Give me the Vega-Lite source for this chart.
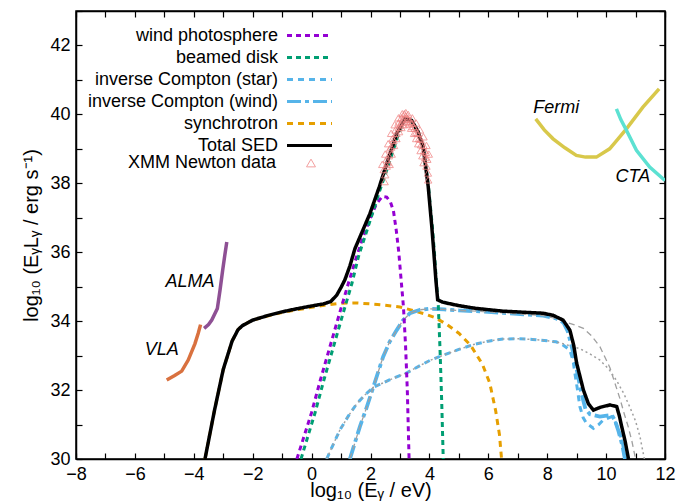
{
  "$schema": "https://vega.github.io/schema/vega-lite/v6.json",
  "width": 589,
  "height": 448,
  "autosize": {"type": "none"},
  "padding": {"left": 76, "top": 11, "right": 21, "bottom": 44},
  "config": {
    "font": "Liberation Sans",
    "view": {"stroke": "black", "strokeWidth": 1.5},
    "axis": {"grid": false, "domainColor": "black", "domainWidth": 1.5, "tickColor": "black", "tickWidth": 1.2, "tickSize": -6, "labelFontSize": 18, "labelColor": "black", "labelPadding": 12, "labelFont": "Liberation Sans", "titleFont": "Liberation Sans", "titleFontSize": 20, "titleFontWeight": "normal", "titleColor": "black", "labelFlush": false, "labelOverlap": false},
    "legend": {"orient": "none", "padding": 0, "labelFontSize": 18, "labelFont": "Liberation Sans", "labelColor": "black", "labelLimit": 0}
  },
  "datasets": {
    "c": [
      {"s": "synchrotron", "x": -3.62, "y": 30}, {"s": "synchrotron", "x": -3.3, "y": 31.4}, {"s": "synchrotron", "x": -3.0, "y": 32.6}, {"s": "synchrotron", "x": -2.7, "y": 33.42}, {"s": "synchrotron", "x": -2.5, "y": 33.75}, {"s": "synchrotron", "x": -2.35, "y": 33.87}, {"s": "synchrotron", "x": -2.0, "y": 34.03}, {"s": "synchrotron", "x": -1.5, "y": 34.15}, {"s": "synchrotron", "x": -1.0, "y": 34.25}, {"s": "synchrotron", "x": -0.5, "y": 34.33}, {"s": "synchrotron", "x": 0, "y": 34.4}, {"s": "synchrotron", "x": 0.5, "y": 34.47}, {"s": "synchrotron", "x": 1, "y": 34.52}, {"s": "synchrotron", "x": 1.5, "y": 34.53}, {"s": "synchrotron", "x": 2, "y": 34.5}, {"s": "synchrotron", "x": 2.5, "y": 34.46}, {"s": "synchrotron", "x": 3, "y": 34.41}, {"s": "synchrotron", "x": 3.4, "y": 34.32}, {"s": "synchrotron", "x": 3.8, "y": 34.22}, {"s": "synchrotron", "x": 4.2, "y": 34.1}, {"s": "synchrotron", "x": 4.6, "y": 33.9}, {"s": "synchrotron", "x": 5.0, "y": 33.65}, {"s": "synchrotron", "x": 5.4, "y": 33.3}, {"s": "synchrotron", "x": 5.8, "y": 32.75}, {"s": "synchrotron", "x": 6.05, "y": 32.2}, {"s": "synchrotron", "x": 6.25, "y": 31.4}, {"s": "synchrotron", "x": 6.38, "y": 30.7}, {"s": "synchrotron", "x": 6.45, "y": 30.0},

      {"s": "inverse Compton (star)", "x": 0.51, "y": 30}, {"s": "inverse Compton (star)", "x": 0.75, "y": 30.45}, {"s": "inverse Compton (star)", "x": 0.96, "y": 30.84}, {"s": "inverse Compton (star)", "x": 1.25, "y": 31.25}, {"s": "inverse Compton (star)", "x": 1.53, "y": 31.6}, {"s": "inverse Compton (star)", "x": 1.8, "y": 31.85}, {"s": "inverse Compton (star)", "x": 2.1, "y": 32.08}, {"s": "inverse Compton (star)", "x": 2.66, "y": 32.3}, {"s": "inverse Compton (star)", "x": 3.23, "y": 32.5}, {"s": "inverse Compton (star)", "x": 3.7, "y": 32.72}, {"s": "inverse Compton (star)", "x": 4.02, "y": 32.86}, {"s": "inverse Compton (star)", "x": 4.4, "y": 32.99}, {"s": "inverse Compton (star)", "x": 5.0, "y": 33.18}, {"s": "inverse Compton (star)", "x": 5.5, "y": 33.32}, {"s": "inverse Compton (star)", "x": 6.0, "y": 33.42}, {"s": "inverse Compton (star)", "x": 6.5, "y": 33.48}, {"s": "inverse Compton (star)", "x": 7.0, "y": 33.49}, {"s": "inverse Compton (star)", "x": 7.5, "y": 33.47}, {"s": "inverse Compton (star)", "x": 7.9, "y": 33.44}, {"s": "inverse Compton (star)", "x": 8.3, "y": 33.4}, {"s": "inverse Compton (star)", "x": 8.5, "y": 33.33}, {"s": "inverse Compton (star)", "x": 8.77, "y": 33.16}, {"s": "inverse Compton (star)", "x": 8.88, "y": 32.85}, {"s": "inverse Compton (star)", "x": 8.94, "y": 32.49}, {"s": "inverse Compton (star)", "x": 9.03, "y": 32.0}, {"s": "inverse Compton (star)", "x": 9.11, "y": 31.52}, {"s": "inverse Compton (star)", "x": 9.22, "y": 31.2}, {"s": "inverse Compton (star)", "x": 9.34, "y": 31.03}, {"s": "inverse Compton (star)", "x": 9.57, "y": 30.89}, {"s": "inverse Compton (star)", "x": 9.75, "y": 31.0}, {"s": "inverse Compton (star)", "x": 9.9, "y": 31.13}, {"s": "inverse Compton (star)", "x": 10.19, "y": 31.23}, {"s": "inverse Compton (star)", "x": 10.3, "y": 31.1}, {"s": "inverse Compton (star)", "x": 10.47, "y": 30.74}, {"s": "inverse Compton (star)", "x": 10.57, "y": 30.4}, {"s": "inverse Compton (star)", "x": 10.64, "y": 30.0},

      {"s": "inverse Compton (wind)", "x": 1.3, "y": 30}, {"s": "inverse Compton (wind)", "x": 1.64, "y": 30.94}, {"s": "inverse Compton (wind)", "x": 1.87, "y": 31.5}, {"s": "inverse Compton (wind)", "x": 2.1, "y": 32.1}, {"s": "inverse Compton (wind)", "x": 2.43, "y": 32.97}, {"s": "inverse Compton (wind)", "x": 2.65, "y": 33.4}, {"s": "inverse Compton (wind)", "x": 2.89, "y": 33.74}, {"s": "inverse Compton (wind)", "x": 3.1, "y": 34.02}, {"s": "inverse Compton (wind)", "x": 3.34, "y": 34.23}, {"s": "inverse Compton (wind)", "x": 3.68, "y": 34.33}, {"s": "inverse Compton (wind)", "x": 4.0, "y": 34.36}, {"s": "inverse Compton (wind)", "x": 4.5, "y": 34.34}, {"s": "inverse Compton (wind)", "x": 5.0, "y": 34.31}, {"s": "inverse Compton (wind)", "x": 5.6, "y": 34.29}, {"s": "inverse Compton (wind)", "x": 6.5, "y": 34.24}, {"s": "inverse Compton (wind)", "x": 7.2, "y": 34.2}, {"s": "inverse Compton (wind)", "x": 7.87, "y": 34.16}, {"s": "inverse Compton (wind)", "x": 8.3, "y": 34.08}, {"s": "inverse Compton (wind)", "x": 8.55, "y": 33.96}, {"s": "inverse Compton (wind)", "x": 8.7, "y": 33.7}, {"s": "inverse Compton (wind)", "x": 8.85, "y": 33.2}, {"s": "inverse Compton (wind)", "x": 9.0, "y": 32.6}, {"s": "inverse Compton (wind)", "x": 9.15, "y": 31.95}, {"s": "inverse Compton (wind)", "x": 9.3, "y": 31.45}, {"s": "inverse Compton (wind)", "x": 9.45, "y": 31.3}, {"s": "inverse Compton (wind)", "x": 9.79, "y": 31.23}, {"s": "inverse Compton (wind)", "x": 10.19, "y": 31.28}, {"s": "inverse Compton (wind)", "x": 10.3, "y": 31.12}, {"s": "inverse Compton (wind)", "x": 10.41, "y": 30.84}, {"s": "inverse Compton (wind)", "x": 10.55, "y": 30.4}, {"s": "inverse Compton (wind)", "x": 10.64, "y": 30.0},

      {"s": "gw", "x": 1.3, "y": 30}, {"s": "gw", "x": 1.64, "y": 30.94}, {"s": "gw", "x": 1.87, "y": 31.5}, {"s": "gw", "x": 2.1, "y": 32.1}, {"s": "gw", "x": 2.43, "y": 32.97}, {"s": "gw", "x": 2.65, "y": 33.4}, {"s": "gw", "x": 2.89, "y": 33.74}, {"s": "gw", "x": 3.1, "y": 34.02}, {"s": "gw", "x": 3.34, "y": 34.23}, {"s": "gw", "x": 3.68, "y": 34.33}, {"s": "gw", "x": 4.0, "y": 34.36}, {"s": "gw", "x": 4.5, "y": 34.34}, {"s": "gw", "x": 5.0, "y": 34.31}, {"s": "gw", "x": 5.6, "y": 34.29}, {"s": "gw", "x": 6.5, "y": 34.24}, {"s": "gw", "x": 7.2, "y": 34.2}, {"s": "gw", "x": 7.87, "y": 34.16}, {"s": "gw", "x": 8.3, "y": 34.08}, {"s": "gw", "x": 8.55, "y": 34.0}, {"s": "gw", "x": 8.9, "y": 33.9}, {"s": "gw", "x": 9.23, "y": 33.79}, {"s": "gw", "x": 9.5, "y": 33.58}, {"s": "gw", "x": 9.79, "y": 33.26}, {"s": "gw", "x": 10.13, "y": 32.65}, {"s": "gw", "x": 10.3, "y": 32.2}, {"s": "gw", "x": 10.47, "y": 31.75}, {"s": "gw", "x": 10.62, "y": 31.3}, {"s": "gw", "x": 10.75, "y": 30.94}, {"s": "gw", "x": 10.88, "y": 30.5}, {"s": "gw", "x": 11.0, "y": 30.0},

      {"s": "gs", "x": 0.51, "y": 30}, {"s": "gs", "x": 0.75, "y": 30.45}, {"s": "gs", "x": 0.96, "y": 30.84}, {"s": "gs", "x": 1.25, "y": 31.25}, {"s": "gs", "x": 1.53, "y": 31.6}, {"s": "gs", "x": 1.8, "y": 31.85}, {"s": "gs", "x": 2.1, "y": 32.08}, {"s": "gs", "x": 2.66, "y": 32.3}, {"s": "gs", "x": 3.23, "y": 32.5}, {"s": "gs", "x": 3.7, "y": 32.72}, {"s": "gs", "x": 4.02, "y": 32.86}, {"s": "gs", "x": 4.4, "y": 32.99}, {"s": "gs", "x": 5.0, "y": 33.18}, {"s": "gs", "x": 5.5, "y": 33.32}, {"s": "gs", "x": 6.0, "y": 33.42}, {"s": "gs", "x": 6.5, "y": 33.48}, {"s": "gs", "x": 7.0, "y": 33.49}, {"s": "gs", "x": 7.5, "y": 33.47}, {"s": "gs", "x": 7.9, "y": 33.44}, {"s": "gs", "x": 8.3, "y": 33.4}, {"s": "gs", "x": 8.8, "y": 33.28}, {"s": "gs", "x": 9.11, "y": 33.2}, {"s": "gs", "x": 9.45, "y": 33.05}, {"s": "gs", "x": 9.79, "y": 32.87}, {"s": "gs", "x": 10.1, "y": 32.6}, {"s": "gs", "x": 10.36, "y": 32.27}, {"s": "gs", "x": 10.6, "y": 31.9}, {"s": "gs", "x": 10.81, "y": 31.5}, {"s": "gs", "x": 11.0, "y": 31.1}, {"s": "gs", "x": 11.15, "y": 30.65}, {"s": "gs", "x": 11.26, "y": 30.17}, {"s": "gs", "x": 11.3, "y": 30.0},

      {"s": "wind photosphere", "x": -0.5, "y": 30}, {"s": "wind photosphere", "x": 0.0, "y": 31.35}, {"s": "wind photosphere", "x": 0.3, "y": 32.3}, {"s": "wind photosphere", "x": 0.62, "y": 33.25}, {"s": "wind photosphere", "x": 0.94, "y": 34.2}, {"s": "wind photosphere", "x": 1.25, "y": 35.1}, {"s": "wind photosphere", "x": 1.5, "y": 35.8}, {"s": "wind photosphere", "x": 1.75, "y": 36.45}, {"s": "wind photosphere", "x": 2.0, "y": 37.0}, {"s": "wind photosphere", "x": 2.2, "y": 37.4}, {"s": "wind photosphere", "x": 2.4, "y": 37.62}, {"s": "wind photosphere", "x": 2.55, "y": 37.6}, {"s": "wind photosphere", "x": 2.68, "y": 37.45}, {"s": "wind photosphere", "x": 2.78, "y": 37.2}, {"s": "wind photosphere", "x": 2.88, "y": 36.6}, {"s": "wind photosphere", "x": 2.96, "y": 36.0}, {"s": "wind photosphere", "x": 3.04, "y": 35.2}, {"s": "wind photosphere", "x": 3.12, "y": 34.4}, {"s": "wind photosphere", "x": 3.19, "y": 33.3}, {"s": "wind photosphere", "x": 3.25, "y": 32.0}, {"s": "wind photosphere", "x": 3.28, "y": 31.0}, {"s": "wind photosphere", "x": 3.31, "y": 30.0},

      {"s": "beamed disk", "x": -0.36, "y": 30}, {"s": "beamed disk", "x": 0.12, "y": 31.35}, {"s": "beamed disk", "x": 0.42, "y": 32.3}, {"s": "beamed disk", "x": 0.74, "y": 33.25}, {"s": "beamed disk", "x": 1.06, "y": 34.2}, {"s": "beamed disk", "x": 1.37, "y": 35.1}, {"s": "beamed disk", "x": 1.6, "y": 35.9}, {"s": "beamed disk", "x": 2.0, "y": 36.95}, {"s": "beamed disk", "x": 2.3, "y": 37.75}, {"s": "beamed disk", "x": 2.6, "y": 38.5}, {"s": "beamed disk", "x": 2.92, "y": 39.35}, {"s": "beamed disk", "x": 3.1, "y": 39.75}, {"s": "beamed disk", "x": 3.2, "y": 39.85}, {"s": "beamed disk", "x": 3.4, "y": 39.8}, {"s": "beamed disk", "x": 3.62, "y": 39.45}, {"s": "beamed disk", "x": 3.8, "y": 39.0}, {"s": "beamed disk", "x": 3.97, "y": 37.9}, {"s": "beamed disk", "x": 4.1, "y": 36.75}, {"s": "beamed disk", "x": 4.17, "y": 36.0}, {"s": "beamed disk", "x": 4.24, "y": 35.1}, {"s": "beamed disk", "x": 4.3, "y": 34.5}, {"s": "beamed disk", "x": 4.36, "y": 33.2}, {"s": "beamed disk", "x": 4.42, "y": 31.6}, {"s": "beamed disk", "x": 4.47, "y": 30.0},

      {"s": "Total SED", "x": -3.62, "y": 30}, {"s": "Total SED", "x": -3.3, "y": 31.4}, {"s": "Total SED", "x": -3.0, "y": 32.6}, {"s": "Total SED", "x": -2.7, "y": 33.42}, {"s": "Total SED", "x": -2.5, "y": 33.75}, {"s": "Total SED", "x": -2.35, "y": 33.87}, {"s": "Total SED", "x": -2.0, "y": 34.03}, {"s": "Total SED", "x": -1.5, "y": 34.16}, {"s": "Total SED", "x": -1.0, "y": 34.27}, {"s": "Total SED", "x": -0.5, "y": 34.36}, {"s": "Total SED", "x": 0, "y": 34.44}, {"s": "Total SED", "x": 0.4, "y": 34.5}, {"s": "Total SED", "x": 0.65, "y": 34.57}, {"s": "Total SED", "x": 0.85, "y": 34.75}, {"s": "Total SED", "x": 1.0, "y": 34.98}, {"s": "Total SED", "x": 1.13, "y": 35.2}, {"s": "Total SED", "x": 1.3, "y": 35.6}, {"s": "Total SED", "x": 1.47, "y": 36.1}, {"s": "Total SED", "x": 1.98, "y": 37.12}, {"s": "Total SED", "x": 2.3, "y": 37.9}, {"s": "Total SED", "x": 2.55, "y": 38.57}, {"s": "Total SED", "x": 2.89, "y": 39.44}, {"s": "Total SED", "x": 3.17, "y": 39.87}, {"s": "Total SED", "x": 3.4, "y": 39.82}, {"s": "Total SED", "x": 3.62, "y": 39.49}, {"s": "Total SED", "x": 3.79, "y": 39.05}, {"s": "Total SED", "x": 3.96, "y": 37.9}, {"s": "Total SED", "x": 4.08, "y": 36.75}, {"s": "Total SED", "x": 4.15, "y": 36.0}, {"s": "Total SED", "x": 4.22, "y": 35.2}, {"s": "Total SED", "x": 4.28, "y": 34.62}, {"s": "Total SED", "x": 4.45, "y": 34.55}, {"s": "Total SED", "x": 5.0, "y": 34.45}, {"s": "Total SED", "x": 5.58, "y": 34.37}, {"s": "Total SED", "x": 6.5, "y": 34.29}, {"s": "Total SED", "x": 7.86, "y": 34.23}, {"s": "Total SED", "x": 8.2, "y": 34.17}, {"s": "Total SED", "x": 8.54, "y": 34.03}, {"s": "Total SED", "x": 8.77, "y": 33.74}, {"s": "Total SED", "x": 8.9, "y": 33.3}, {"s": "Total SED", "x": 9.0, "y": 32.78}, {"s": "Total SED", "x": 9.23, "y": 32.0}, {"s": "Total SED", "x": 9.4, "y": 31.6}, {"s": "Total SED", "x": 9.57, "y": 31.42}, {"s": "Total SED", "x": 9.8, "y": 31.5}, {"s": "Total SED", "x": 10.13, "y": 31.57}, {"s": "Total SED", "x": 10.36, "y": 31.52}, {"s": "Total SED", "x": 10.45, "y": 31.25}, {"s": "Total SED", "x": 10.53, "y": 30.94}, {"s": "Total SED", "x": 10.65, "y": 30.5}, {"s": "Total SED", "x": 10.76, "y": 30.0},

      {"s": "VLA", "x": -4.92, "y": 32.29}, {"s": "VLA", "x": -4.65, "y": 32.42}, {"s": "VLA", "x": -4.41, "y": 32.55}, {"s": "VLA", "x": -4.19, "y": 32.87}, {"s": "VLA", "x": -3.96, "y": 33.35}, {"s": "VLA", "x": -3.85, "y": 33.65}, {"s": "VLA", "x": -3.77, "y": 33.9},
      {"s": "ALMA", "x": -3.65, "y": 33.79}, {"s": "ALMA", "x": -3.5, "y": 33.9}, {"s": "ALMA", "x": -3.39, "y": 34.03}, {"s": "ALMA", "x": -3.2, "y": 34.37}, {"s": "ALMA", "x": -3.11, "y": 34.9}, {"s": "ALMA", "x": -3.02, "y": 35.48}, {"s": "ALMA", "x": -2.95, "y": 35.9}, {"s": "ALMA", "x": -2.88, "y": 36.3},
      {"s": "Fermi", "x": 7.61, "y": 39.87}, {"s": "Fermi", "x": 7.9, "y": 39.55}, {"s": "Fermi", "x": 8.2, "y": 39.29}, {"s": "Fermi", "x": 8.6, "y": 39.03}, {"s": "Fermi", "x": 8.99, "y": 38.81}, {"s": "Fermi", "x": 9.3, "y": 38.76}, {"s": "Fermi", "x": 9.67, "y": 38.76}, {"s": "Fermi", "x": 10.12, "y": 39.0}, {"s": "Fermi", "x": 10.4, "y": 39.28}, {"s": "Fermi", "x": 10.69, "y": 39.58}, {"s": "Fermi", "x": 11.25, "y": 40.21}, {"s": "Fermi", "x": 11.8, "y": 40.74},
      {"s": "CTA", "x": 10.35, "y": 40.16}, {"s": "CTA", "x": 10.5, "y": 39.85}, {"s": "CTA", "x": 10.69, "y": 39.54}, {"s": "CTA", "x": 11.03, "y": 38.96}, {"s": "CTA", "x": 11.48, "y": 38.47}, {"s": "CTA", "x": 12.0, "y": 38.08}
    ],
    "xmm": [
      {"src": "XMM Newton data", "x": 2.45, "y": 38.4}, {"src": "XMM Newton data", "x": 2.55, "y": 38.7}, {"src": "XMM Newton data", "x": 2.65, "y": 39.0}, {"src": "XMM Newton data", "x": 2.75, "y": 39.3}, {"src": "XMM Newton data", "x": 2.85, "y": 39.55}, {"src": "XMM Newton data", "x": 2.95, "y": 39.75}, {"src": "XMM Newton data", "x": 3.05, "y": 39.9}, {"src": "XMM Newton data", "x": 3.15, "y": 40.02},
      {"src": "XMM Newton data", "x": 2.4, "y": 38.55}, {"src": "XMM Newton data", "x": 2.5, "y": 38.85}, {"src": "XMM Newton data", "x": 2.6, "y": 39.15}, {"src": "XMM Newton data", "x": 2.7, "y": 39.45}, {"src": "XMM Newton data", "x": 2.82, "y": 39.7}, {"src": "XMM Newton data", "x": 2.95, "y": 39.9}, {"src": "XMM Newton data", "x": 3.08, "y": 40.02},
      {"src": "XMM Newton data", "x": 2.65, "y": 38.55}, {"src": "XMM Newton data", "x": 2.72, "y": 38.85}, {"src": "XMM Newton data", "x": 2.8, "y": 39.1}, {"src": "XMM Newton data", "x": 2.88, "y": 39.3}, {"src": "XMM Newton data", "x": 2.97, "y": 39.5}, {"src": "XMM Newton data", "x": 3.05, "y": 39.62}, {"src": "XMM Newton data", "x": 3.13, "y": 39.7},
      {"src": "XMM Newton data", "x": 2.55, "y": 38.5}, {"src": "XMM Newton data", "x": 2.62, "y": 38.8}, {"src": "XMM Newton data", "x": 2.7, "y": 39.05}, {"src": "XMM Newton data", "x": 2.78, "y": 39.25}, {"src": "XMM Newton data", "x": 2.88, "y": 39.45}, {"src": "XMM Newton data", "x": 2.96, "y": 39.62}, {"src": "XMM Newton data", "x": 3.05, "y": 39.78}, {"src": "XMM Newton data", "x": 3.1, "y": 39.85},
      {"src": "XMM Newton data", "x": 3.2, "y": 39.95}, {"src": "XMM Newton data", "x": 3.25, "y": 39.88}, {"src": "XMM Newton data", "x": 3.3, "y": 39.85}, {"src": "XMM Newton data", "x": 3.22, "y": 39.78}, {"src": "XMM Newton data", "x": 3.3, "y": 39.72}, {"src": "XMM Newton data", "x": 3.35, "y": 39.8}, {"src": "XMM Newton data", "x": 3.2, "y": 40.05}, {"src": "XMM Newton data", "x": 3.28, "y": 40.0},
      {"src": "XMM Newton data", "x": 3.4, "y": 39.75}, {"src": "XMM Newton data", "x": 3.5, "y": 39.6}, {"src": "XMM Newton data", "x": 3.6, "y": 39.45}, {"src": "XMM Newton data", "x": 3.7, "y": 39.28}, {"src": "XMM Newton data", "x": 3.8, "y": 39.1}, {"src": "XMM Newton data", "x": 3.88, "y": 38.9}, {"src": "XMM Newton data", "x": 3.93, "y": 38.7}, {"src": "XMM Newton data", "x": 3.95, "y": 38.3},
      {"src": "XMM Newton data", "x": 3.42, "y": 39.9}, {"src": "XMM Newton data", "x": 3.55, "y": 39.75}, {"src": "XMM Newton data", "x": 3.68, "y": 39.55}, {"src": "XMM Newton data", "x": 3.8, "y": 39.35}, {"src": "XMM Newton data", "x": 3.9, "y": 39.1}, {"src": "XMM Newton data", "x": 3.98, "y": 38.85},
      {"src": "XMM Newton data", "x": 3.38, "y": 39.6}, {"src": "XMM Newton data", "x": 3.48, "y": 39.45}, {"src": "XMM Newton data", "x": 3.55, "y": 39.3}, {"src": "XMM Newton data", "x": 3.62, "y": 39.15}, {"src": "XMM Newton data", "x": 3.7, "y": 38.95}, {"src": "XMM Newton data", "x": 3.76, "y": 38.8}, {"src": "XMM Newton data", "x": 3.8, "y": 38.6},
      {"src": "XMM Newton data", "x": 3.45, "y": 39.65}, {"src": "XMM Newton data", "x": 3.55, "y": 39.48}, {"src": "XMM Newton data", "x": 3.65, "y": 39.3}, {"src": "XMM Newton data", "x": 3.72, "y": 39.12}, {"src": "XMM Newton data", "x": 3.82, "y": 38.95}, {"src": "XMM Newton data", "x": 3.86, "y": 38.75},
      {"src": "XMM Newton data", "x": 2.5, "y": 38.25}, {"src": "XMM Newton data", "x": 3.9, "y": 38.5}, {"src": "XMM Newton data", "x": 2.58, "y": 38.6}, {"src": "XMM Newton data", "x": 3.02, "y": 39.7}, {"src": "XMM Newton data", "x": 2.48, "y": 38.05}, {"src": "XMM Newton data", "x": 3.96, "y": 38.1}
    ],
    "lab": [
      {"t": "Fermi", "x": 8.31, "y": 40.19}, {"t": "CTA", "x": 10.91, "y": 38.18}, {"t": "ALMA", "x": -4.13, "y": 35.14}, {"t": "VLA", "x": -5.09, "y": 33.16}
    ]
  },
  "layer": [
    {
      "data": {"name": "c"},
      "transform": [{"filter": {"field": "s", "oneOf": ["synchrotron", "inverse Compton (star)"]}}],
      "mark": {"type": "line", "strokeWidth": 3, "clip": true},
      "encoding": {
        "x": {"field": "x", "type": "quantitative", "scale": {"domain": [-8, 12], "nice": false, "zero": false},
              "axis": {"orient": "bottom", "values": [-8,-7,-6,-5,-4,-3,-2,-1,0,1,2,3,4,5,6,7,8,9,10,11,12], "labelExpr": "datum.value % 2 === 0 ? datum.label : ''", "title": "log₁₀ (Eᵧ / eV)", "titlePadding": -3}},
        "y": {"field": "y", "type": "quantitative", "scale": {"domain": [30, 43], "nice": false, "zero": false},
              "axis": {"orient": "left", "values": [30,31,32,33,34,35,36,37,38,39,40,41,42,43], "labelExpr": "datum.value % 2 === 0 && datum.value < 43 ? datum.label : ''", "title": "log₁₀ (EᵧLᵧ / erg s⁻¹)", "titlePadding": 8}},
        "color": {"field": "s", "type": "nominal", "scale": {"domain": ["wind photosphere", "beamed disk", "inverse Compton (star)", "inverse Compton (wind)", "synchrotron", "Total SED"], "range": ["#9400d3", "#009e73", "#56b4e9", "#56b4e9", "#e69f00", "#000000"]},
                  "legend": {"title": null, "legendX": 223, "legendY": 14, "labelAlign": "right", "labelOffset": -42, "symbolType": "M-2.5,0L2.5,0", "symbolSize": 324, "symbolStrokeWidth": 3, "rowPadding": 2}},
        "strokeDash": {"field": "s", "type": "nominal", "scale": {"domain": ["wind photosphere", "beamed disk", "inverse Compton (star)", "inverse Compton (wind)", "synchrotron", "Total SED"], "range": [[5,4],[5,4],[6,5],[14,4,4,4],[6,5],[1,0]]},
                  "legend": {"title": null, "legendX": 223, "legendY": 14, "labelAlign": "right", "labelOffset": -42, "symbolType": "M-2.5,0L2.5,0", "symbolSize": 324, "symbolStrokeWidth": 3, "rowPadding": 2}}
      }
    },
    {
      "data": {"name": "c"},
      "transform": [{"filter": {"field": "s", "equal": "inverse Compton (wind)"}}],
      "mark": {"type": "line", "strokeWidth": 3.8, "clip": true},
      "encoding": {
        "x": {"field": "x", "type": "quantitative", "axis": null},
        "y": {"field": "y", "type": "quantitative", "axis": null},
        "color": {"field": "s", "type": "nominal", "scale": {"domain": ["wind photosphere", "beamed disk", "inverse Compton (star)", "inverse Compton (wind)", "synchrotron", "Total SED"], "range": ["#9400d3", "#009e73", "#56b4e9", "#56b4e9", "#e69f00", "#000000"]},
                  "legend": {"title": null, "legendX": 223, "legendY": 14, "labelAlign": "right", "labelOffset": -42, "symbolType": "M-2.5,0L2.5,0", "symbolSize": 324, "symbolStrokeWidth": 3, "rowPadding": 2}},
        "strokeDash": {"field": "s", "type": "nominal", "scale": {"domain": ["wind photosphere", "beamed disk", "inverse Compton (star)", "inverse Compton (wind)", "synchrotron", "Total SED"], "range": [[5,4],[5,4],[6,5],[14,4,4,4],[6,5],[1,0]]},
                  "legend": {"title": null, "legendX": 223, "legendY": 14, "labelAlign": "right", "labelOffset": -42, "symbolType": "M-2.5,0L2.5,0", "symbolSize": 324, "symbolStrokeWidth": 3, "rowPadding": 2}}
      }
    },
    {
      "data": {"name": "c"},
      "transform": [{"filter": {"field": "s", "equal": "gw"}}],
      "mark": {"type": "line", "strokeWidth": 1.3, "color": "#a0a0a0", "strokeDash": [6, 4], "clip": true},
      "encoding": {
        "x": {"field": "x", "type": "quantitative", "axis": null},
        "y": {"field": "y", "type": "quantitative", "axis": null}
      }
    },
    {
      "data": {"name": "c"},
      "transform": [{"filter": {"field": "s", "equal": "gs"}}],
      "mark": {"type": "line", "strokeWidth": 1.5, "color": "#a0a0a0", "strokeDash": [2, 3], "clip": true},
      "encoding": {
        "x": {"field": "x", "type": "quantitative", "axis": null},
        "y": {"field": "y", "type": "quantitative", "axis": null}
      }
    },
    {
      "data": {"name": "c"},
      "transform": [{"filter": {"field": "s", "oneOf": ["wind photosphere", "beamed disk"]}}],
      "mark": {"type": "line", "strokeWidth": 3, "clip": true},
      "encoding": {
        "x": {"field": "x", "type": "quantitative", "axis": null},
        "y": {"field": "y", "type": "quantitative", "axis": null},
        "color": {"field": "s", "type": "nominal", "scale": {"domain": ["wind photosphere", "beamed disk", "inverse Compton (star)", "inverse Compton (wind)", "synchrotron", "Total SED"], "range": ["#9400d3", "#009e73", "#56b4e9", "#56b4e9", "#e69f00", "#000000"]},
                  "legend": {"title": null, "legendX": 223, "legendY": 14, "labelAlign": "right", "labelOffset": -42, "symbolType": "M-2.5,0L2.5,0", "symbolSize": 324, "symbolStrokeWidth": 3, "rowPadding": 2}},
        "strokeDash": {"field": "s", "type": "nominal", "scale": {"domain": ["wind photosphere", "beamed disk", "inverse Compton (star)", "inverse Compton (wind)", "synchrotron", "Total SED"], "range": [[5,4],[5,4],[6,5],[14,4,4,4],[6,5],[1,0]]},
                  "legend": {"title": null, "legendX": 223, "legendY": 14, "labelAlign": "right", "labelOffset": -42, "symbolType": "M-2.5,0L2.5,0", "symbolSize": 324, "symbolStrokeWidth": 3, "rowPadding": 2}}
      }
    },
    {
      "data": {"name": "c"},
      "transform": [{"filter": {"field": "s", "equal": "Total SED"}}],
      "mark": {"type": "line", "strokeWidth": 3.5, "clip": true},
      "encoding": {
        "x": {"field": "x", "type": "quantitative", "axis": null},
        "y": {"field": "y", "type": "quantitative", "axis": null},
        "color": {"field": "s", "type": "nominal", "scale": {"domain": ["wind photosphere", "beamed disk", "inverse Compton (star)", "inverse Compton (wind)", "synchrotron", "Total SED"], "range": ["#9400d3", "#009e73", "#56b4e9", "#56b4e9", "#e69f00", "#000000"]},
                  "legend": {"title": null, "legendX": 223, "legendY": 14, "labelAlign": "right", "labelOffset": -42, "symbolType": "M-2.5,0L2.5,0", "symbolSize": 324, "symbolStrokeWidth": 3, "rowPadding": 2}},
        "strokeDash": {"field": "s", "type": "nominal", "scale": {"domain": ["wind photosphere", "beamed disk", "inverse Compton (star)", "inverse Compton (wind)", "synchrotron", "Total SED"], "range": [[5,4],[5,4],[6,5],[14,4,4,4],[6,5],[1,0]]},
                  "legend": {"title": null, "legendX": 223, "legendY": 14, "labelAlign": "right", "labelOffset": -42, "symbolType": "M-2.5,0L2.5,0", "symbolSize": 324, "symbolStrokeWidth": 3, "rowPadding": 2}}
      }
    },
    {
      "data": {"name": "c"},
      "transform": [{"filter": {"field": "s", "oneOf": ["VLA", "ALMA", "Fermi", "CTA"]}}],
      "mark": {"type": "line", "strokeWidth": 3.5, "clip": true},
      "encoding": {
        "x": {"field": "x", "type": "quantitative", "axis": null},
        "y": {"field": "y", "type": "quantitative", "axis": null},
        "stroke": {"field": "s", "type": "nominal", "scale": {"domain": ["VLA", "ALMA", "Fermi", "CTA"], "range": ["#d9713f", "#8e5094", "#d8c84a", "#5ce1d2"]}, "legend": null}
      }
    },
    {
      "data": {"name": "xmm"},
      "mark": {"type": "point", "shape": "triangle-up", "filled": false, "color": "#f08080", "strokeWidth": 1, "opacity": 0.75, "size": 55},
      "encoding": {
        "x": {"field": "x", "type": "quantitative", "axis": {"orient": "top", "values": [-8,-7,-6,-5,-4,-3,-2,-1,0,1,2,3,4,5,6,7,8,9,10,11,12], "labels": false, "title": null}},
        "y": {"field": "y", "type": "quantitative", "axis": {"orient": "right", "values": [30,31,32,33,34,35,36,37,38,39,40,41,42,43], "labels": false, "title": null}},
        "shape": {"field": "src", "type": "nominal", "scale": {"domain": ["XMM Newton data"], "range": ["triangle-up"]},
                  "legend": {"title": null, "legendX": 226, "legendY": 143, "labelAlign": "right", "labelOffset": -44, "symbolSize": 80, "symbolStrokeColor": "#f08080", "symbolFillColor": "transparent", "symbolStrokeWidth": 1}}
      }
    },
    {
      "data": {"name": "lab"},
      "mark": {"type": "text", "fontStyle": "italic", "fontSize": 18, "font": "Liberation Sans", "color": "black", "align": "center", "baseline": "middle"},
      "encoding": {
        "x": {"field": "x", "type": "quantitative", "axis": null},
        "y": {"field": "y", "type": "quantitative", "axis": null},
        "text": {"field": "t"}
      }
    }
  ],
  "resolve": {"axis": {"x": "independent", "y": "independent"}}
}
